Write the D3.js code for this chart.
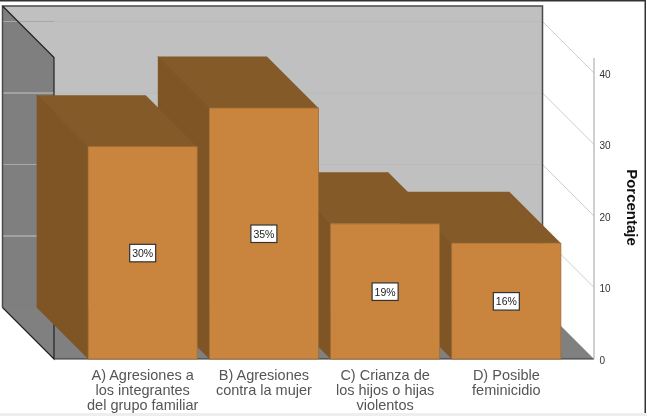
<!DOCTYPE html>
<html><head><meta charset="utf-8">
<script src="https://cdn.jsdelivr.net/npm/d3@7/dist/d3.min.js"></script>
<style>html,body{margin:0;padding:0;background:#fff}svg{display:block;filter:blur(0.35px)}text{font-family:"Liberation Sans",Arial,sans-serif}</style>
</head><body><div id="c"></div>
<script>
const categories = ["A) Agresiones a|los integrantes|del grupo familiar","B) Agresiones|contra la mujer","C) Crianza de|los hijos o hijas|violentos","D) Posible|feminicidio"];
const values = [29.7, 35.1, 18.9, 16.2];
const barLabels = ["30%","35%","19%","16%"];
const ticks = [0,10,20,30,40];
const axisTitle = "Porcentaje";

const W=647,H=416, depth=51.5;
const svg=d3.select("#c").append("svg").attr("width",W).attr("height",H);
const y=d3.scaleLinear().domain([0,40]).range([359,73]);
const x=d3.scaleBand().domain(categories).range([76,573]).paddingInner(0.1).paddingOuter(0.1);
const L=54,R=594,wallTop=57.5,base=y(0);
const poly=p=>p.map(a=>a.join(",")).join(" ");

svg.append("rect").attr("width",W).attr("height",H).attr("fill","#fff");
// back wall
svg.append("polygon").attr("points",poly([[L-depth,wallTop-depth],[R-depth,wallTop-depth],[R-depth,base-depth],[L-depth,base-depth]])).attr("fill","#c0c0c0");
// side wall & floor
svg.append("polygon").attr("points",poly([[L-depth,wallTop-depth],[L,wallTop],[L,base],[L-depth,base-depth]])).attr("fill","#7f7f7f");
svg.append("polygon").attr("points",poly([[L-depth,base-depth],[R-depth,base-depth],[R,base],[L,base]])).attr("fill","#808080");
// gridlines
ticks.slice(1).forEach(t=>{
  const yy=y(t);
  svg.append("line").attr("x1",L-depth).attr("x2",R-depth).attr("y1",yy-depth).attr("y2",yy-depth).attr("stroke","#bababa").attr("stroke-width",1);
  svg.append("line").attr("x1",L-depth).attr("x2",L).attr("y1",yy-depth).attr("y2",yy-depth).attr("stroke","#a8a8a8").attr("stroke-width",1);
  svg.append("line").attr("x1",R-depth).attr("x2",R).attr("y1",yy-depth).attr("y2",yy).attr("stroke","#cfcfcf").attr("stroke-width",1);
});
// wall outlines
svg.append("polyline").attr("points",poly([[L-depth,base-depth],[L-depth,wallTop-depth],[R-depth,wallTop-depth],[R-depth,base-depth]])).attr("fill","none").attr("stroke","#4a4a4a").attr("stroke-width",1.5);
svg.append("polyline").attr("points",poly([[L-depth,wallTop-depth],[L,wallTop],[L,base],[L-depth,base-depth]])).attr("fill","none").attr("stroke","#222").attr("stroke-width",1.2);
svg.append("line").attr("x1",L).attr("x2",R).attr("y1",base).attr("y2",base).attr("stroke","#333").attr("stroke-width",1.2);
// axis
svg.append("line").attr("x1",R).attr("x2",R).attr("y1",58).attr("y2",base).attr("stroke","#b0b0b0").attr("stroke-width",1.2);
svg.selectAll("text.tick").data(ticks).join("text").attr("class","tick").attr("x",R+5.5).attr("y",d=>y(d)+1).attr("dy","0.36em").attr("font-size",10).attr("fill","#333").text(d=>d);
svg.append("text").attr("transform","translate(626.5,207.5) rotate(90)").attr("text-anchor","middle").attr("font-size",15).attr("font-weight","bold").attr("fill","#111").text(axisTitle);
// bars, painted from the last to the first
const rows=categories.map((c,i)=>({c,v:values[i],l:barLabels[i]})).reverse();
const g=svg.selectAll("g.bar").data(rows).join("g").attr("class","bar");
g.each(function(d){
  const s=d3.select(this),x0=x(d.c),x1=x0+x.bandwidth(),t=y(d.v);
  s.append("polygon").attr("points",poly([[x0-depth,t-depth],[x0,t],[x0,base],[x0-depth,base-depth]])).attr("fill","#7f5526");
  s.append("polygon").attr("points",poly([[x0-depth,t-depth],[x1-depth,t-depth],[x1,t],[x0,t]])).attr("fill","#855a29");
  s.append("line").attr("x1",x0-depth).attr("y1",t-depth).attr("x2",x0).attr("y2",t).attr("stroke","#6f4a20").attr("stroke-width",0.8);
  s.append("rect").attr("x",x0).attr("y",t).attr("width",x1-x0).attr("height",base-t).attr("fill","#c9853e").attr("stroke","#a06c33").attr("stroke-width",0.8);
  const cx=(x0+x1)/2,cy=(t+base)/2;
  s.append("rect").attr("x",cx-13).attr("y",cy-8.5).attr("width",26).attr("height",17.5).attr("fill","#fff").attr("stroke","#333").attr("stroke-width",1.2);
  s.append("text").attr("x",cx).attr("y",cy+0.5).attr("dy","0.36em").attr("text-anchor","middle").attr("font-size",10.5).attr("fill","#222").text(d.l);
  const txt=s.append("text").attr("text-anchor","middle").attr("font-size",14.5).attr("fill","#555");
  d.c.split("|").forEach((ln,i)=>txt.append("tspan").attr("x",cx).attr("y",380+i*15).text(ln));
});
// frame
svg.append("rect").attr("x",0).attr("y",0).attr("width",W-1).attr("height",1.5).attr("fill","#333");
svg.append("rect").attr("x",W-2.5).attr("y",0).attr("width",1.5).attr("height",H-2).attr("fill","#333");
svg.append("rect").attr("x",0).attr("y",H-3).attr("width",W).attr("height",3).attr("fill","#eee");
</script></body></html>
